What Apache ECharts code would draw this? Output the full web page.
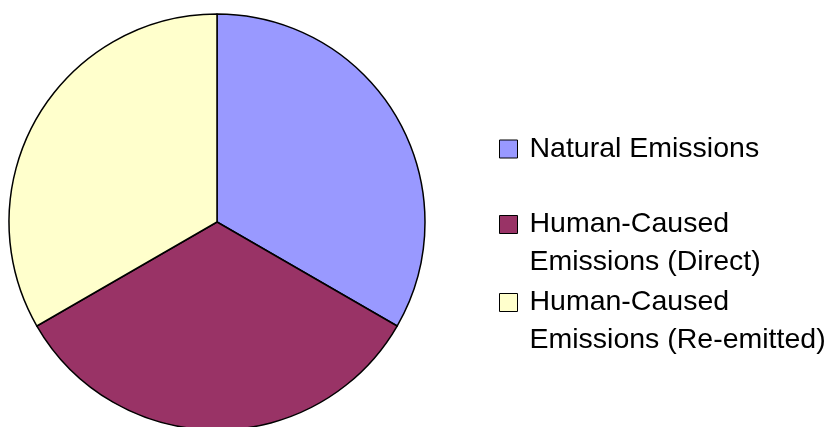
<!DOCTYPE html>
<html>
<head>
<meta charset="utf-8">
<script src="https://cdn.jsdelivr.net/npm/echarts@6/dist/echarts.min.js"></script>
<style>
  html, body { margin: 0; padding: 0; background: #ffffff; }
  #chart { width: 838px; height: 427px; }
</style>
</head>
<body>
<div id="chart"></div>
<script>
// Sources of emissions, share of total (%)
const categories = [
  'Natural Emissions',
  'Human-Caused Emissions (Direct)',
  'Human-Caused Emissions (Re-emitted)'
];
const shares = [33.3, 33.3, 33.3];
const colors = ['#9999FF', '#993366', '#FFFFCC'];
// Legend text, wrapped the way it is shown
const legendLabels = [
  'Natural Emissions',
  'Human-Caused\nEmissions (Direct)',
  'Human-Caused\nEmissions (Re-emitted)'
];

const FONT = '"Liberation Sans", Arial, Helvetica, sans-serif';
const LINE = 38;
const legendTops = [130, 167.5, 245.5];

// square swatch, kept square inside a wider legend item box
const squareIcon = 'path://M0,0 L10,0 L10,10 L0,10 Z';

const legends = categories.map((name, i) => {
  const multi = legendLabels[i].indexOf('\n') >= 0;
  // wrapped labels get an empty leading line so their first line
  // sits level with the swatch (legend text is centred on the icon)
  const text = multi ? ' \n' + legendLabels[i] : legendLabels[i];
  return {
    data: [name],
    left: 499,
    top: legendTops[i],
    padding: 0,
    orient: 'vertical',
    icon: squareIcon,
    itemWidth: 32,
    itemHeight: 18,
    selectedMode: false,
    itemStyle: { borderColor: '#000', borderWidth: 1 },
    formatter: () => text,
    textStyle: {
      fontFamily: FONT,
      fontSize: 28.5,
      color: '#000',
      lineHeight: LINE
    }
  };
});

const chart = echarts.init(document.getElementById('chart'), null, { renderer: 'canvas' });
chart.setOption({
  animation: false,
  color: colors,
  legend: legends,
  series: [{
    type: 'pie',
    center: [217, 222],
    radius: 208,
    startAngle: 90,
    clockwise: true,
    label: { show: false },
    labelLine: { show: false },
    emphasis: { disabled: true },
    itemStyle: { borderColor: '#000', borderWidth: 1.5 },
    data: categories.map((name, i) => ({ name, value: shares[i] }))
  }]
});
</script>
</body>
</html>
